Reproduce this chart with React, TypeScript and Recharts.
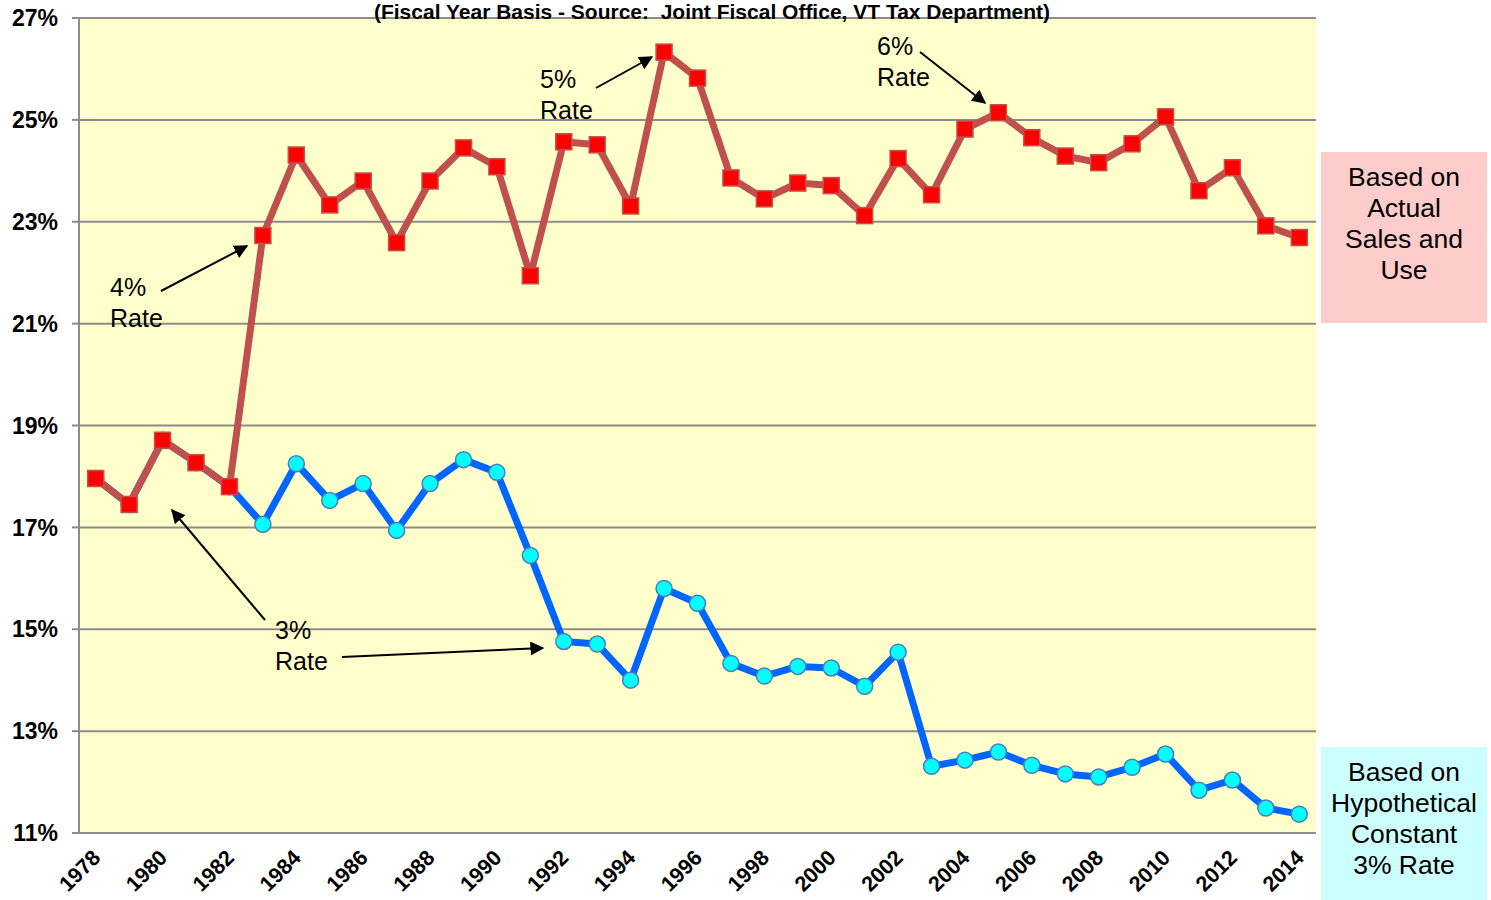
import React from 'react';
import { LineChart, Line, XAxis, YAxis, CartesianGrid } from 'recharts';

const years = [
  1978, 1979, 1980, 1981, 1982, 1983, 1984, 1985, 1986, 1987, 1988, 1989, 1990,
  1991, 1992, 1993, 1994, 1995, 1996, 1997, 1998, 1999, 2000, 2001, 2002, 2003,
  2004, 2005, 2006, 2007, 2008, 2009, 2010, 2011, 2012, 2013, 2014,
];

// based on actual sales and use
const actual = [
  17.96, 17.45, 18.71, 18.27, 17.8, 22.73, 24.31, 23.33, 23.8, 22.59, 23.8, 24.45, 24.08,
  21.94, 24.57, 24.51, 23.31, 26.33, 25.82, 23.86, 23.45, 23.76, 23.71, 23.12, 24.24, 23.53,
  24.82, 25.14, 24.65, 24.29, 24.16, 24.53, 25.06, 23.61, 24.06, 22.92, 22.69,
];

// hypothetical constant 3% rate
const hypothetical = [
  17.96, 17.45, 18.71, 18.27, 17.8, 17.06, 18.25, 17.53, 17.86, 16.94, 17.86, 18.33, 18.08,
  16.45, 14.76, 14.71, 14.0, 15.8, 15.51, 14.33, 14.08, 14.27, 14.24, 13.88, 14.55, 12.31,
  12.43, 12.59, 12.33, 12.16, 12.1, 12.29, 12.55, 11.84, 12.04, 11.49, 11.37,
];

const yTicks = [11, 13, 15, 17, 19, 21, 23, 25, 27];
const labelYears = years.filter((y) => y % 2 === 0);
const markTicks = [...years.map((y) => y - 0.5), 2014.5];

const data = years.map((year, i) => ({ year, actual: actual[i], hypothetical: hypothetical[i] }));

const FONT = 'Arial, "Liberation Sans", sans-serif';

const SquareDot = (props: any) => {
  const { cx, cy } = props;
  if (cx == null || cy == null) return null;
  return <rect x={cx - 8} y={cy - 8} width={16} height={16} fill="#FF0000" stroke="#C0504D" strokeWidth={1.5} />;
};

const CircleDot = (props: any) => {
  const { cx, cy } = props;
  if (cx == null || cy == null) return null;
  return <circle cx={cx} cy={cy} r={8} fill="#00FFFF" stroke="#4A7EBB" strokeWidth={1.5} />;
};

const YearTick = (props: any) => {
  const { x, y, payload } = props;
  const ax = x + 6;
  const ay = y + 10;
  return (
    <text
      x={ax}
      y={ay}
      transform={`rotate(-45, ${ax}, ${ay})`}
      textAnchor="end"
      fontFamily={FONT}
      fontWeight="bold"
      fontSize={21.5}
      fill="#000"
    >
      {payload.value}
    </text>
  );
};

const Arrow = ({ x1, y1, x2, y2 }: { x1: number; y1: number; x2: number; y2: number }) => (
  <line x1={x1} y1={y1} x2={x2} y2={y2} stroke="#000" strokeWidth={2} markerEnd="url(#arrowHead)" />
);

const Note = ({ x, y, lines }: { x: number; y: number; lines: string[] }) => (
  <text x={x} y={y} fontFamily={FONT} fontSize={25} fill="#000">
    {lines.map((l, i) => (
      <tspan key={i} x={x} dy={i === 0 ? 0 : 31}>
        {l}
      </tspan>
    ))}
  </text>
);

const SideBox = ({ top, height, fill, lines }: { top: number; height: number; fill: string; lines: string[] }) => (
  <div
    style={{
      position: 'absolute',
      left: 1321,
      top,
      width: 166,
      height,
      background: fill,
      boxSizing: 'border-box',
      paddingTop: 10,
      display: 'flex',
      flexDirection: 'column',
      alignItems: 'center',
      fontFamily: FONT,
      fontSize: 26.5,
      lineHeight: '31px',
      color: '#000',
      textAlign: 'center',
      whiteSpace: 'nowrap',
    }}
  >
    {lines.map((l, i) => (
      <div key={i}>{l}</div>
    ))}
  </div>
);

export default function App() {
  return (
    <div style={{ position: 'absolute', left: 0, top: 0, width: 1491, height: 900, background: '#fff', overflow: 'hidden' }}>
      <LineChart width={1491} height={900} data={data} margin={{ top: 18, right: 175, bottom: 0, left: 0 }}>
        <CartesianGrid horizontal vertical={false} stroke="#8C8C8C" strokeWidth={2} fill="#FFFFCC" />
        <XAxis
          xAxisId="marks"
          type="number"
          dataKey="year"
          domain={[1977.5, 2014.5]}
          allowDataOverflow
          ticks={markTicks}
          interval={0}
          tick={false}
          tickLine={{ stroke: '#8C8C8C', strokeWidth: 2 }}
          tickSize={7}
          axisLine={{ stroke: '#8C8C8C', strokeWidth: 2 }}
          height={8}
        />
        <XAxis
          xAxisId="years"
          type="number"
          dataKey="year"
          domain={[1977.5, 2014.5]}
          allowDataOverflow
          ticks={labelYears}
          interval={0}
          tick={<YearTick />}
          tickLine={false}
          axisLine={false}
          height={59}
        />
        <YAxis
          domain={[11, 27]}
          ticks={yTicks}
          interval={0}
          width={79}
          tickFormatter={(v) => `${v}%`}
          tick={{ fontFamily: FONT, fontWeight: 'bold', fontSize: 23, fill: '#000' }}
          tickLine={{ stroke: '#8C8C8C', strokeWidth: 2 }}
          tickSize={7}
          tickMargin={14}
          axisLine={{ stroke: '#8C8C8C', strokeWidth: 2 }}
        />
        <Line
          xAxisId="marks"
          type="linear"
          dataKey="hypothetical"
          stroke="#0066FF"
          strokeWidth={7}
          strokeLinejoin="round"
          dot={<CircleDot />}
          isAnimationActive={false}
        />
        <Line
          xAxisId="years"
          type="linear"
          dataKey="actual"
          stroke="#C0504D"
          strokeWidth={7}
          strokeLinejoin="round"
          dot={<SquareDot />}
          isAnimationActive={false}
        />
      </LineChart>

      <svg width={1491} height={900} style={{ position: 'absolute', left: 0, top: 0, pointerEvents: 'none' }}>
        <defs>
          <marker id="arrowHead" viewBox="0 0 10 10" refX="9" refY="5" markerWidth="7" markerHeight="7" orient="auto">
            <path d="M0,0 L10,5 L0,10 z" fill="#000" />
          </marker>
        </defs>
        <text
          x={712}
          y={19}
          textAnchor="middle"
          fontFamily={FONT}
          fontWeight="bold"
          fontSize={21}
          fill="#000"
          style={{ whiteSpace: 'pre' }}
        >
          (Fiscal Year Basis - Source:  Joint Fiscal Office, VT Tax Department)
        </text>
        <Note x={110} y={296} lines={['4%', 'Rate']} />
        <Arrow x1={161} y1={291} x2={247} y2={246} />
        <Note x={540} y={88} lines={['5%', 'Rate']} />
        <Arrow x1={596} y1={88} x2={652} y2={57} />
        <Note x={877} y={55} lines={['6%', 'Rate']} />
        <Arrow x1={920} y1={52} x2={985} y2={103} />
        <Note x={275} y={639} lines={['3%', 'Rate']} />
        <Arrow x1={265} y1={620} x2={172} y2={510} />
        <Arrow x1={342} y1={657} x2={543} y2={648} />
      </svg>

      <SideBox top={152} height={171} fill="#FFCCCC" lines={['Based on', 'Actual', 'Sales and', 'Use']} />
      <SideBox top={747} height={153} fill="#CCFFFF" lines={['Based on', 'Hypothetical', 'Constant', '3% Rate']} />
    </div>
  );
}
